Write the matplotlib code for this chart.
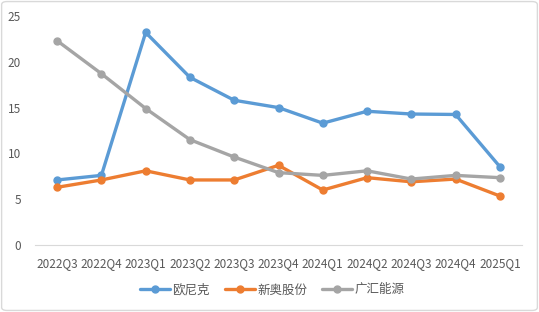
import matplotlib
matplotlib.use("Agg")
import matplotlib.pyplot as plt
from matplotlib.patches import FancyBboxPatch

plt.rcParams['font.family'] = ['Noto Sans CJK SC', 'DejaVu Sans']

quarters = ["2022Q3", "2022Q4", "2023Q1", "2023Q2", "2023Q3", "2023Q4",
            "2024Q1", "2024Q2", "2024Q3", "2024Q4", "2025Q1"]
oulike = [7.1, 7.6, 23.2, 18.3, 15.8, 15.0, 13.3, 14.6, 14.3, 14.25, 8.55]
xinao = [6.3, 7.1, 8.1, 7.1, 7.1, 8.7, 6.0, 7.35, 6.9, 7.2, 5.35]
guanghui = [22.3, 18.7, 14.9, 11.5, 9.6, 7.9, 7.6, 8.1, 7.2, 7.6, 7.35]
series_names = ["欧尼克", "新奥股份", "广汇能源"]
colors = ["#5B9BD5", "#ED7D31", "#A5A5A5"]
yticks = [0, 5, 10, 15, 20, 25]

fig = plt.figure(figsize=(5.39, 3.12), dpi=100)
ax = fig.add_axes([35/539, 1-245/312, 487/539, 229/312])

x = list(range(len(quarters)))
for vals, name, c in zip([oulike, xinao, guanghui], series_names, colors):
    ax.plot(x, vals, color=c, lw=2.4, marker='o', markersize=5, label=name,
            solid_capstyle='round', solid_joinstyle='round')

ax.set_xlim(-0.5, len(quarters) - 0.5)
ax.set_ylim(0, 25)
ax.set_yticks(yticks)
ax.set_xticks(x)
ax.set_xticklabels(quarters)
for s in ['top', 'right', 'left']:
    ax.spines[s].set_visible(False)
ax.spines['bottom'].set_color('#D9D9D9')
ax.spines['bottom'].set_linewidth(0.8)
ax.tick_params(axis='both', length=0, colors='#595959', labelsize=8.5)
ax.tick_params(axis='x', pad=9)
ax.tick_params(axis='y', pad=10)

leg = fig.legend(loc='center', bbox_to_anchor=(272/539, 1-290/312), ncol=3,
                 frameon=False, fontsize=9, handlelength=2.4, columnspacing=1.2,
                 handletextpad=0.2, labelcolor='#595959')

border = FancyBboxPatch((0.003, 0.005), 0.994, 0.99, boxstyle="round,pad=0,rounding_size=0.01",
                        transform=fig.transFigure, fill=False, edgecolor='#D9D9D9', lw=1.0)
fig.patches.append(border)

fig.savefig("out.png", dpi=100)
